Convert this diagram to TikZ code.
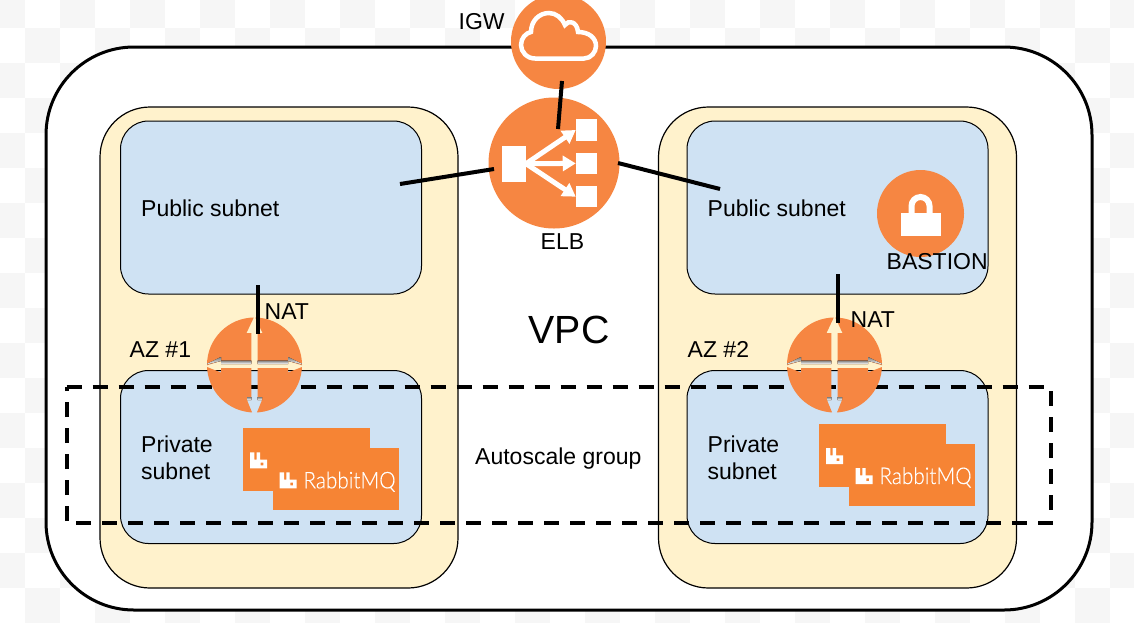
\documentclass[tikz,border=0pt]{standalone}
\usepackage{fontspec}
\setmainfont{Liberation Sans}
\newfontfamily\logofont[FakeBold=0.3]{Lato Light}
\usetikzlibrary{arrows.meta}
\definecolor{icon}{HTML}{F68642}
\definecolor{logo}{HTML}{F68434}
\definecolor{shade}{HTML}{AB5A2E}
\definecolor{zone}{HTML}{FFF2CC}
\definecolor{subnet}{HTML}{CFE2F3}
\definecolor{tile}{HTML}{F6F6F6}
\tikzset{
    lbl/.style={inner sep=0pt,anchor=base west,font=\fontsize{23}{27}\selectfont},
    vpcbox/.style={draw=black,fill=white,line width=3pt,rounded corners=88pt,anchor=north west,
        inner sep=0pt,outer sep=0pt,minimum width=1046pt,minimum height=563pt},
    azbox/.style={draw=black,fill=zone,line width=1.2pt,rounded corners=50pt,anchor=north west,
        inner sep=0pt,outer sep=0pt,minimum width=358pt,minimum height=481pt},
    netbox/.style={draw=black,fill=subnet,line width=1pt,rounded corners=28pt,anchor=north west,
        inner sep=0pt,outer sep=0pt,minimum width=301pt,minimum height=173pt},
    disc/.style={circle,fill=icon,inner sep=0pt,outer sep=0pt},
    link/.style={black,line width=4pt},
    groupline/.style={black,line width=4pt,dash pattern=on 15pt off 11pt},
    elbsq/.style={fill=white,inner sep=0pt,outer sep=0pt,minimum width=21.5pt,minimum height=21.5pt},
    elbarrow/.style={white,line width=5pt,-{Triangle[width=15pt,length=13pt]}},
    naticon/.pic={
        \begin{scope}
            \clip (0,-1) circle (47.5pt);
            \fill[icon,even odd rule] (-50,-50) rectangle (50,50)
                (0,-50) -- (8,-33) -- (3.2,-33) -- (3.2,-2) -- (33.5,-2) -- (33.5,-5) -- (50,0)
                -- (33.5,6.5) -- (33.5,2) -- (3.2,2) -- (3.2,34) -- (7.5,34) -- (1,50)
                -- (-1,50) -- (-7.5,34) -- (-3.2,34) -- (-3.2,2) -- (-33.5,2) -- (-33.5,6.5) -- (-50,0)
                -- (-33.5,-5) -- (-33.5,-2) -- (-3.2,-2) -- (-3.2,-33) -- (-8,-33) -- cycle;
            \fill[shade] (-33.5,-5.5) rectangle (-3.2,-2) (3.2,-5.5) rectangle (33.5,-2);
            \fill[shade] (-50,-1) -- (-33.5,-9) -- (-33.5,-5) -- cycle;
            \fill[shade] (50,-1) -- (33.5,-9) -- (33.5,-5) -- cycle;
            \fill[shade] (-7.5,31) rectangle (-3.2,34) (3.2,31) rectangle (7.5,34);
        \end{scope}
    },
    rabbithead/.pic={
        \fill[white,even odd rule] (0,0) -- (4.3,0) -- (4.3,7.3) -- (6.7,7.3) -- (6.7,0) -- (10,0)
            -- (10,7.3) -- (17,7.3) -- (17,16) -- (0,16) -- cycle
            (10.7,10.3) rectangle (13.3,13);
    },
    rabbitmq/.pic={
        \fill[logo] (0,0) rectangle (126.5,62.5);
        \fill[logo] (30,20) rectangle (156,82);
        \pic at (6.7,24) {rabbithead};
        \pic at (36.4,44) {rabbithead};
        \node[inner sep=0pt,anchor=base west,white,xscale=0.9,font=\logofont\fontsize{23}{27}\selectfont]
            (-name) at (60,60) {RabbitMQ};
    }
}

\begin{document}
\begin{tikzpicture}[x=1pt,y=-1pt]
    \useasboundingbox (0,0) rectangle (1134,622);
    % checker behind everything
    \begin{scope}
        \clip (0,0) rectangle (1134,622);
        \fill[white] (0,0) rectangle (1134,622);
        \foreach \c in {-1,...,31}
            \foreach \r in {0,...,17} {
                \pgfmathtruncatemacro{\odd}{mod(\c+\r+20,2)}
                \ifnum\odd=1
                    \fill[tile] (25+35*\c,-7+35*\r) rectangle +(35,35);
                \fi
            }
    \end{scope}

    \node[vpcbox] (vpc) at (46,47) {};
    \node[azbox] (azone) at (100,107) {};
    \node[azbox] (aztwo) at (658.5,107) {};
    \node[netbox] (pubone) at (120.5,121) {};
    \node[netbox] (privone) at (120.5,370.5) {};
    \node[netbox] (pubtwo) at (687,121) {};
    \node[netbox] (privtwo) at (687,370.5) {};

    % autoscale group
    \coordinate (groupnw) at (66.7,387);
    \coordinate (groupne) at (1050.7,387);
    \coordinate (groupse) at (1050.7,523);
    \coordinate (groupsw) at (66.7,523);
    \draw[groupline] (groupnw) -- (groupne) -- (groupse) -- (groupsw) -- cycle;

    % igw
    \node[disc,minimum size=95pt] (igw) at (558.5,41.5) {};
    \draw[white,line width=4.5pt] (535,58.5) .. controls (527,58.5) and (521,52) .. (521,45)
        .. controls (521,38) and (526,33) .. (531,32)
        .. controls (531,21) and (539,13) .. (549,13)
        .. controls (556,13) and (562,18) .. (565,25)
        .. controls (568,20) and (577,21) .. (578,32)
        .. controls (589,32) and (596,38) .. (596,46)
        .. controls (596,52) and (591,58.5) .. (584,58.5) -- cycle;

    % elb
    \node[disc,minimum size=131pt] (elb) at (554,163) {};
    \node[elbsq,minimum width=24pt,minimum height=36pt] (elbleft) at (514,163.7) {};
    \node[elbsq] (elbtop) at (586.5,130) {};
    \node[elbsq] (elbmid) at (586.5,163.4) {};
    \node[elbsq] (elbbot) at (586.5,196.7) {};
    \draw[elbarrow] (elbleft.east) -- (elbtop.west);
    \draw[elbarrow] (elbleft.east) -- (elbmid.west);
    \draw[elbarrow] (elbleft.east) -- (elbbot.west);

    % bastion
    \node[disc,minimum size=87pt] (bastion) at (920.5,213.5) {};
    \node[fill=white,inner sep=0pt,outer sep=0pt,minimum width=40pt,minimum height=23pt] (lock) at (921,224.5) {};
    \draw[white,line width=6pt] (911.5,214) -- (911.5,206) arc (180:0:9pt) -- (929.5,214);

    % nat
    \pic at (254.5,366) {naticon};
    \pic at (834.5,366) {naticon};

    \pic (rmqone) at (243.3,428.3) {rabbitmq};
    \pic (rmqtwo) at (819.3,424) {rabbitmq};

    % links
    \coordinate (igwend) at (562,81);
    \coordinate (elbtopend) at (558,129);
    \coordinate (pubend) at (400,184);
    \coordinate (elbwest) at (494,169);
    \coordinate (elbeast) at (618,163);
    \coordinate (pubtwoend) at (720,189);
    \coordinate (natoneup) at (257.5,285);
    \coordinate (natonedown) at (257.5,334);
    \coordinate (nattwoup) at (837.5,274);
    \coordinate (nattwodown) at (837.5,323);
    \draw[link] (igwend) -- (elbtopend);
    \draw[link] (pubend) -- (elbwest);
    \draw[link] (elbeast) -- (pubtwoend);
    \draw[link] (natoneup) -- (natonedown);
    \draw[link] (nattwoup) -- (nattwodown);

    % labels
    \node[lbl] (igwlabel) at (458.5,29) {IGW};
    \node[lbl] (elblabel) at (540.5,249) {ELB};
    \node[lbl,font=\fontsize{39.3}{47}\selectfont] (vpclabel) at (528.5,343) {VPC};
    \node[lbl] (publabel) at (141,216) {Public subnet};
    \node[lbl] (pubtwolabel) at (707.5,216) {Public subnet};
    \node[lbl] (bastionlabel) at (886.5,269) {BASTION};
    \node[lbl] (natlabel) at (264.5,319) {NAT};
    \node[lbl] (nattwolabel) at (850.5,327) {NAT};
    \node[lbl] (azlabel) at (129.5,357) {AZ \#1};
    \node[lbl] (aztwolabel) at (687.5,357) {AZ \#2};
    \node[lbl] (privlabel) at (141,452) {Private};
    \node[lbl] (privsub) at (141,479) {subnet};
    \node[lbl] (privtwolabel) at (707.5,452) {Private};
    \node[lbl] (privtwosub) at (707.5,479) {subnet};
    \node[lbl] (grouplabel) at (475,464) {Autoscale group};
\end{tikzpicture}
\end{document}
